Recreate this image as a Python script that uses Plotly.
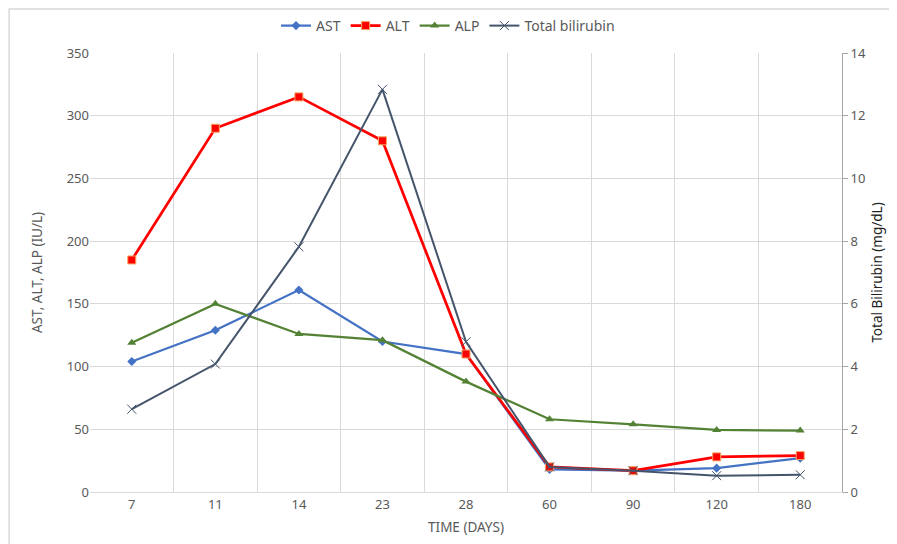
import plotly.graph_objects as go

days = ["7", "11", "14", "23", "28", "60", "90", "120", "180"]
ast = [104, 129, 161, 120, 110, 18, 17, 19, 27]
alt = [185, 290, 315, 280, 110, 20, 17, 28, 29]
alp = [119, 150, 126, 121, 88, 58, 54, 49.5, 49]
bilirubin = [2.64, 4.08, 7.82, 12.84, 4.79, 0.8, 0.68, 0.52, 0.55]
left_ticks = [0, 50, 100, 150, 200, 250, 300, 350]
right_ticks = [0, 2, 4, 6, 8, 10, 12, 14]

FONT = "Noto Sans"
GREY = "#595959"

fig = go.Figure()
fig.add_trace(go.Scatter(x=days, y=ast, name="AST", mode="lines+markers",
                         line=dict(color="#4472C4", width=2.25),
                         marker=dict(symbol="diamond", size=7, color="#4472C4")))
fig.add_trace(go.Scatter(x=days, y=alt, name="ALT", mode="lines+markers",
                         line=dict(color="#FF0000", width=2.75),
                         marker=dict(symbol="square", size=8, color="#FF0000",
                                     line=dict(color="#F4A460", width=1))))
fig.add_trace(go.Scatter(x=days, y=alp, name="ALP", mode="lines+markers",
                         line=dict(color="#548235", width=2.25),
                         marker=dict(symbol="triangle-up", size=8, color="#548235")))
fig.add_trace(go.Scatter(x=days, y=bilirubin, name="Total bilirubin", mode="lines+markers",
                         yaxis="y2",
                         line=dict(color="#44546A", width=2),
                         marker=dict(symbol="x-thin-open", size=9,
                                     line=dict(color="#44546A", width=1))))

# page body has an 8px margin, so the figure is drawn 8px in from the window edge
W, H = 889, 536
fig.update_layout(
    width=W, height=H,
    margin=dict(l=82, r=55, t=45, b=52, autoexpand=False),
    paper_bgcolor="white", plot_bgcolor="white",
    font=dict(family=FONT, size=13, color=GREY),
    showlegend=True,
    legend=dict(orientation="h", x=(448 - 8) / W, xref="container", xanchor="center",
                y=1 - 18 / H, yref="container", yanchor="middle",
                bgcolor="rgba(0,0,0,0)",
                font=dict(size=14, color=GREY)),
    xaxis=dict(type="category", categoryorder="array", categoryarray=days,
               range=[-0.5, 8.5], tickson="boundaries", automargin=False,
               showgrid=True, gridcolor="#D9D9D9", gridwidth=1,
               showline=True, linecolor="#D9D9D9", linewidth=1,
               ticks="", tickfont=dict(size=13, color=GREY),
               title=dict(text="TIME (DAYS)", font=dict(size=13.5, color=GREY), standoff=10),
               zeroline=False),
    yaxis=dict(range=[0, 350], tickvals=left_ticks, showgrid=True, automargin=False,
               gridcolor="#D9D9D9", gridwidth=1, zeroline=False,
               showline=False, ticks="", tickfont=dict(size=13, color=GREY),
               title=dict(text="AST, ALT, ALP (IU/L)", font=dict(size=13.5, color=GREY),
                          standoff=20)),
    yaxis2=dict(range=[0, 14], tickvals=right_ticks, overlaying="y", side="right",
                automargin=False,
                showgrid=False, zeroline=False, showline=True, linecolor="#A6A6A6",
                linewidth=1, ticks="outside", ticklen=5, tickcolor="#A6A6A6",
                tickfont=dict(size=13, color=GREY),
                title=dict(text="Total Bilirubin (mg/dL)", font=dict(size=13.5, color="#222222"),
                           standoff=7)),
    shapes=[dict(type="rect", xref="paper", yref="paper",
                 x0=(10 - 90) / 744, x1=(905 - 90) / 744,
                 y0=(492 - 552) / 439, y1=(492 - 9) / 439,
                 line=dict(color="#D9D9D9", width=1.5), layer="below")],
)

fig.write_html("out.html")
